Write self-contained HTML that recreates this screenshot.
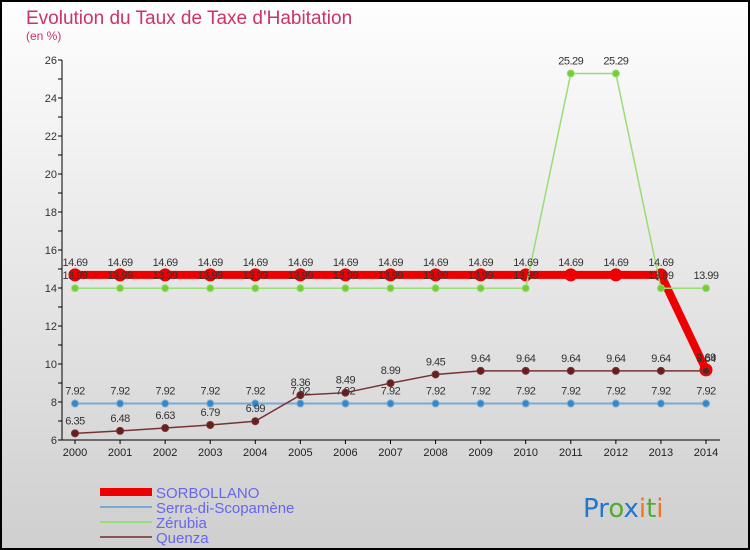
<!DOCTYPE html>
<html><head><meta charset="utf-8"><style>
body{margin:0;width:750px;height:550px;overflow:hidden;font-family:"Liberation Sans",sans-serif}
svg{display:block}
</style></head><body>
<svg width="750" height="550" viewBox="0 0 750 550">
<defs><linearGradient id="bg" x1="0" y1="0" x2="0" y2="1"><stop offset="0" stop-color="#fefefe"/><stop offset="1" stop-color="#cfcfcf"/></linearGradient></defs>
<rect x="1" y="1" width="748" height="548" fill="url(#bg)" stroke="#000" stroke-width="2"/>
<text x="26" y="24" font-size="19" fill="#cc3366">Evolution du Taux de Taxe d'Habitation</text>
<text x="26" y="40" font-size="12" fill="#cc3366">(en %)</text>
<g id="axes"></g><g id="series"></g><g id="labels"></g>
<g font-size="15" fill="#6666ee">
<rect x="100" y="488" width="52" height="8" fill="#ee0000"/>
<text x="156" y="498">SORBOLLANO</text>
<line x1="100" y1="507" x2="152" y2="507" stroke="#7aaad0" stroke-width="2"/>
<text x="156" y="513">Serra-di-Scopamène</text>
<line x1="100" y1="522" x2="152" y2="522" stroke="#99dd77" stroke-width="2"/>
<text x="156" y="528">Zérubia</text>
<line x1="100" y1="537" x2="152" y2="537" stroke="#885555" stroke-width="2"/>
<text x="156" y="543">Quenza</text>
</g>
<text x="583" y="517" font-size="26" font-family="DejaVu Sans,sans-serif"><tspan fill="#2277cc">Pr</tspan><tspan fill="#55aa33">o</tspan><tspan fill="#2277cc">x</tspan><tspan fill="#ee7722">i</tspan><tspan fill="#55aa33">t</tspan><tspan fill="#ee7722">i</tspan></text>
</svg>
<script>
const years=[2000,2001,2002,2003,2004,2005,2006,2007,2008,2009,2010,2011,2012,2013,2014];
const yTicks=[6,8,10,12,14,16,18,20,22,24,26];
const sorbollano=[14.69,14.69,14.69,14.69,14.69,14.69,14.69,14.69,14.69,14.69,14.69,14.69,14.69,14.69,9.69];
const serra=[7.92,7.92,7.92,7.92,7.92,7.92,7.92,7.92,7.92,7.92,7.92,7.92,7.92,7.92,7.92];
const zerubia=[13.99,13.99,13.99,13.99,13.99,13.99,13.99,13.99,13.99,13.99,13.99,25.29,25.29,13.99,13.99];
const quenza=[6.35,6.48,6.63,6.79,6.99,8.36,8.49,8.99,9.45,9.64,9.64,9.64,9.64,9.64,9.64];
const NS='http://www.w3.org/2000/svg';
const X=i=>75+i*(706-75)/14;
const Y=v=>440-(v-6)*19;
function mk(t,a,p){const e=document.createElementNS(NS,t);for(const k in a)e.setAttribute(k,a[k]);p.appendChild(e);return e;}
const ax=document.getElementById('axes'),sg=document.getElementById('series'),lg=document.getElementById('labels');
const yl=mk('line',{x1:62,y1:60,x2:62,y2:440,stroke:'#000'},ax);


const xl=mk('line',{x1:62,y1:440,x2:720,y2:440,stroke:'#000'},ax);


for(let v=6;v<=26;v++){mk('line',{x1:58,y1:Y(v),x2:62,y2:Y(v),stroke:'#000'},ax);}
yTicks.forEach(v=>{const t=mk('text',{x:57,y:Y(v)+4,'font-size':11,'text-anchor':'end',fill:'#333'},ax);t.textContent=v;

});
years.forEach((yr,i)=>{mk('line',{x1:X(i),y1:440,x2:X(i),y2:444,stroke:'#000'},ax);const t=mk('text',{x:X(i),y:456,'font-size':11,'text-anchor':'middle',fill:'#222'},ax);t.textContent=yr;

});
function series(name,data,color,w,r,pc){
 const g=mk('g',{},sg);
 
 
 mk('polyline',{points:data.map((v,i)=>X(i)+','+Y(v)).join(' '),fill:'none',stroke:color,'stroke-width':w},g);
 data.forEach((v,i)=>{const c=mk('circle',{cx:X(i),cy:Y(v),r:r,fill:pc,stroke:color,'stroke-width':1},g);
 
 
 const t=mk('text',{x:X(i),y:Y(v)-9,'font-size':11,'text-anchor':'middle',fill:'#333','letter-spacing':'-0.5'},lg);t.textContent=v;
 
 });
}
series('sorbollano',sorbollano,'#ee0000',8,6,'#ee0000');
series('zerubia',zerubia,'#99dd77',1.5,3.5,'#77cc33');
series('serra',serra,'#7aaad0',2,3.5,'#3388cc');
series('quenza',quenza,'#773333',1.5,3.5,'#661f1f');
</script>
</body></html>
